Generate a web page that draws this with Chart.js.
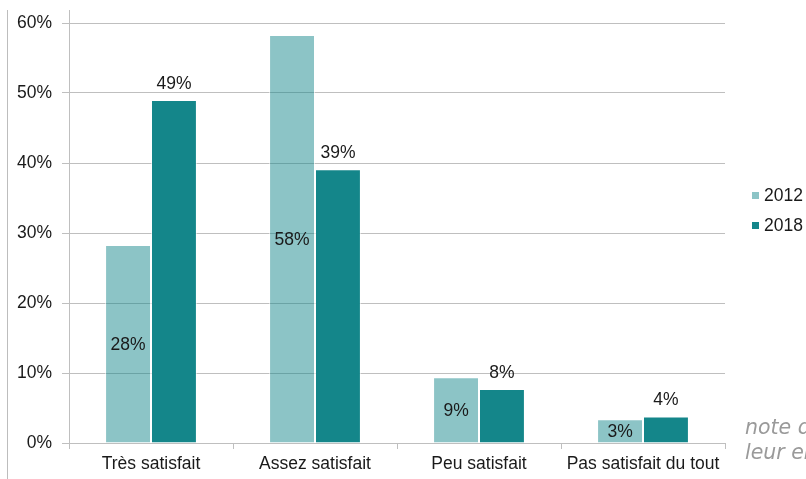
<!DOCTYPE html>
<html>
<head>
<meta charset="utf-8">
<script src="https://cdn.jsdelivr.net/npm/chart.js@4.4.1/dist/chart.umd.min.js"></script>
<style>
  html, body { margin: 0; padding: 0; background: #fff; }
  #wrap { position: relative; width: 806px; height: 479px; overflow: hidden; }
  #c { position: absolute; left: 0; top: 0; }
  #frame { position: absolute; left: 7px; top: 10px; width: 1px; height: 469px; background: #bdbdbd; }
  #legend { position: absolute; left: 752px; top: 180px; font: 17.5px "Liberation Sans", Arial, sans-serif; color: #1a1a1a; }
  .li { display: flex; align-items: center; height: 30px; }
  .sw { width: 7px; height: 7px; margin-right: 5px; }
  #note { position: absolute; left: 745px; top: 415px; font: italic 300 20.5px "DejaVu Sans", sans-serif; color: #9a9a9a; line-height: 25px; white-space: nowrap; }
</style>
</head>
<body>
<div id="wrap">
  <canvas id="c" width="806" height="479"></canvas>
  <div id="frame"></div>
  <div id="legend"></div>
  <div id="note">note de<br>leur en</div>
</div>
<script>
const categories = ["Très satisfait", "Assez satisfait", "Peu satisfait", "Pas satisfait du tout"];
const seriesNames = ["2012", "2018"];
const values2012 = [28.3, 58.3, 9.4, 3.4];
const values2018 = [49.0, 39.1, 7.7, 3.8];
const labels2012 = ["28%", "58%", "9%", "3%"];
const labels2018 = ["49%", "39%", "8%", "4%"];
const yTickLabels = ["0%", "10%", "20%", "30%", "40%", "50%", "60%"];
const colors = ["rgba(20,134,138,0.49)", "#14868a"];

const FONT = '"Liberation Sans", Arial, sans-serif';

const labelPlugin = {
  id: 'barLabels',
  afterDatasetsDraw(chart) {
    const ctx = chart.ctx;
    ctx.save();
    ctx.font = '17.5px ' + FONT;
    ctx.fillStyle = '#1a1a1a';
    ctx.textAlign = 'center';
    ctx.textBaseline = 'middle';
    const m0 = chart.getDatasetMeta(0);
    m0.data.forEach((bar, i) => {
      ctx.fillText(labels2012[i], bar.x, (bar.y + bar.base) / 2 + 1);
    });
    const m1 = chart.getDatasetMeta(1);
    m1.data.forEach((bar, i) => {
      ctx.fillText(labels2018[i], bar.x, bar.y - 16);
    });
    ctx.restore();
  }
};

const axisLinePlugin = {
  id: 'axisLine',
  afterDraw(chart) {
    const ctx = chart.ctx;
    const a = chart.chartArea;
    ctx.save();
    ctx.strokeStyle = '#bfbfbf';
    ctx.lineWidth = 1;
    ctx.beginPath();
    const x = Math.round(a.left) + 0.5;
    ctx.moveTo(x, a.top - 13);
    ctx.lineTo(x, a.bottom + 6);
    ctx.stroke();
    ctx.restore();
  }
};

new Chart(document.getElementById('c'), {
  type: 'bar',
  data: {
    labels: categories,
    datasets: [
      { label: seriesNames[0], data: values2012, backgroundColor: colors[0], borderColor: 'rgba(255,255,255,0.6)', borderWidth: 1 },
      { label: seriesNames[1], data: values2018, backgroundColor: colors[1], borderColor: 'rgba(255,255,255,0.6)', borderWidth: 1 }
    ]
  },
  options: {
    responsive: false,
    animation: false,
    events: [],
    layout: { padding: { left: 0, right: 81, top: 23, bottom: 0 } },
    datasets: { bar: { categoryPercentage: 0.56, barPercentage: 1.0 } },
    plugins: { legend: { display: false }, tooltip: { enabled: false } },
    scales: {
      x: {
        offset: true,
        grid: { display: true, drawOnChartArea: false, tickLength: 6, color: '#bfbfbf', offset: true },
        border: { display: true, color: '#bfbfbf' },
        ticks: { font: { family: FONT, size: 17.5 }, color: '#1a1a1a', padding: 5, maxRotation: 0, autoSkip: false },
        afterFit(s) { s.height = 36; }
      },
      y: {
        min: 0, max: 60,
        ticks: {
          stepSize: 10,
          font: { family: FONT, size: 17.5 }, color: '#1a1a1a', padding: 10,
          callback: (v) => yTickLabels[Math.round(v / 10)]
        },
        grid: { color: '#bfbfbf', tickLength: 7 },
        border: { display: false },
        afterFit(s) { s.width = 69; }
      }
    }
  },
  plugins: [labelPlugin, axisLinePlugin]
});

const leg = document.getElementById('legend');
seriesNames.forEach((n, i) => {
  const d = document.createElement('div');
  d.className = 'li';
  d.innerHTML = '<span class="sw" style="background:' + colors[i] + '"></span><span>' + n + '</span>';
  leg.appendChild(d);
});
</script>
</body>
</html>
